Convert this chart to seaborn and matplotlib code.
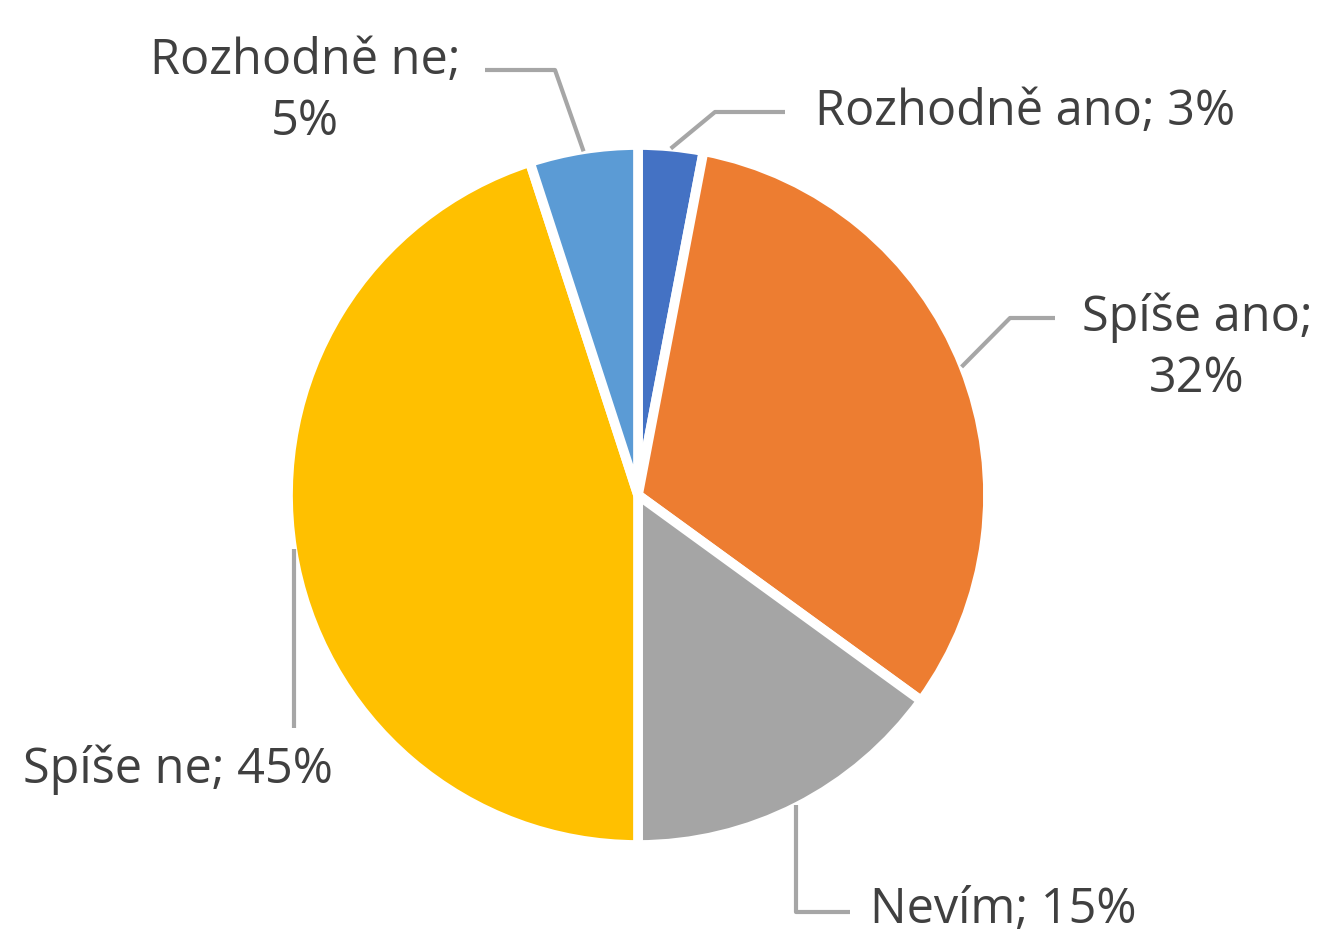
import numpy as np
import matplotlib
matplotlib.use("Agg")
import matplotlib.pyplot as plt
import seaborn as sns

# answer categories, clockwise from 12 o'clock
categories = ["Rozhodně ano", "Spíše ano", "Nevím", "Spíše ne", "Rozhodně ne"]
shares = [3, 32, 15, 45, 5]
labels = ["Rozhodně ano; 3%", "Spíše ano;\n32%", "Nevím; 15%", "Spíše ne; 45%", "Rozhodně ne;\n5%"]
colors = ["#4472C4", "#ED7D31", "#A5A5A5", "#FFC000", "#5B9BD5"]

W, H = 1321, 935
CENTER = (638, H - 495)
RADIUS = 350

# leader line elbow / end and label anchor (pixel layout, y from top)
# an x of None means "straight down/up from where the line leaves the pie"
LAYOUT = {
    "Rozhodně ano": dict(path=[(715, 112), (785, 112)], text=(815, 112), ha="left"),
    "Spíše ano": dict(path=[(1010, 318), (1055, 318)], text=(1197, 348), ha="center"),
    "Nevím": dict(path=[(None, 912), (850, 912)], text=(870, 910), ha="left"),
    "Spíše ne": dict(path=[(None, 728)], text=(178, 770), ha="center"),
    "Rozhodně ne": dict(path=[(555, 70), (485, 70)], text=(305, 92), ha="center"),
}

sns.set_theme(style="white")
plt.rcParams["font.family"] = ["Open Sans", "DejaVu Sans"]

fig = plt.figure(figsize=(W / 100, H / 100), dpi=100)
ax = fig.add_axes([0, 0, 1, 1])

wedges, _ = ax.pie(
    shares,
    colors=colors,
    startangle=90,
    counterclock=False,
    center=CENTER,
    radius=RADIUS,
    wedgeprops=dict(edgecolor="white", linewidth=7),
    frame=True,
)
ax.set_xlim(0, W)
ax.set_ylim(0, H)
ax.set_axis_off()

for cat, w, lab in zip(categories, wedges, labels):
    mid = np.deg2rad((w.theta1 + w.theta2) / 2)
    sx = CENTER[0] + (RADIUS - 2) * np.cos(mid)
    sy = CENTER[1] + (RADIUS - 2) * np.sin(mid)
    lay = LAYOUT[cat]
    pts = [(sx, sy)] + [(sx if x is None else x, H - y) for x, y in lay["path"]]
    xs, ys = zip(*pts)
    ax.plot(xs, ys, color="#A6A6A6", lw=3, solid_capstyle="butt")
    tx, ty = lay["text"]
    ax.text(tx, H - ty, lab, ha=lay["ha"], va="center", fontsize=35,
            color="#404040", linespacing=1.3)

fig.savefig("out.png", dpi=100)
